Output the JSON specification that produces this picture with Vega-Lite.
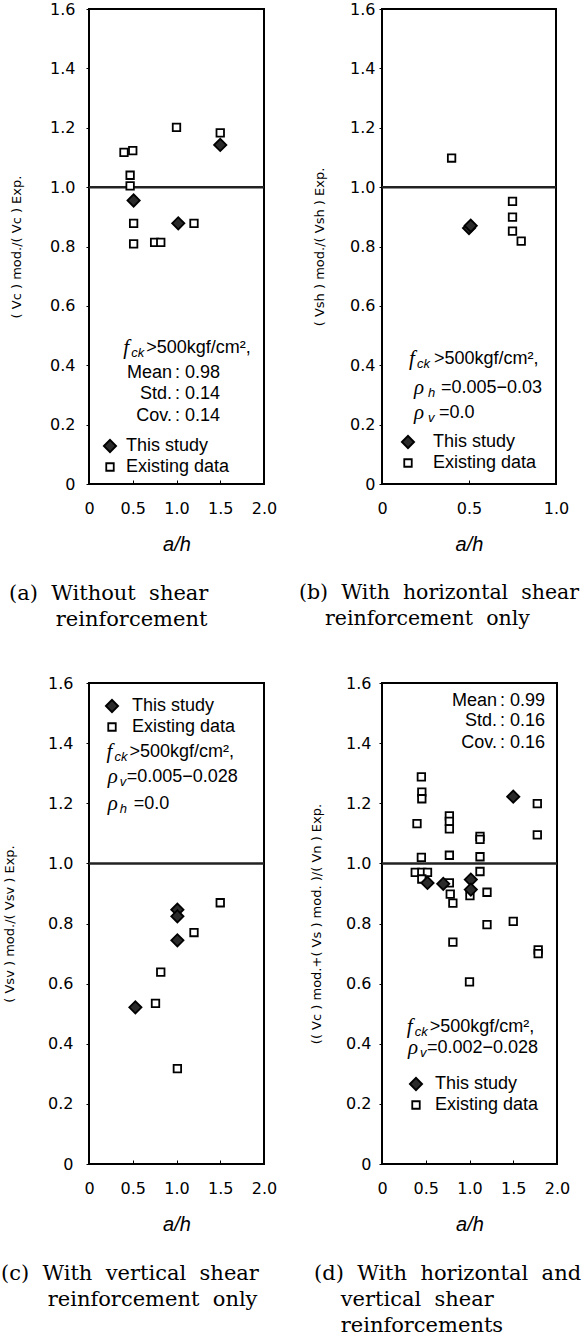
{
  "$schema": "https://vega.github.io/schema/vega-lite/v6.json",
  "background": "white",
  "padding": {"left": 0, "top": 0, "right": 0, "bottom": 2},
  "datasets": {
    "one": [{}],
    "a": [
      {"ah": 0.40, "ratio": 1.117, "source": "Existing data"},
      {"ah": 0.50, "ratio": 1.123, "source": "Existing data"},
      {"ah": 0.47, "ratio": 1.040, "source": "Existing data"},
      {"ah": 0.47, "ratio": 1.004, "source": "Existing data"},
      {"ah": 0.51, "ratio": 0.878, "source": "Existing data"},
      {"ah": 0.51, "ratio": 0.809, "source": "Existing data"},
      {"ah": 0.75, "ratio": 0.814, "source": "Existing data"},
      {"ah": 0.82, "ratio": 0.814, "source": "Existing data"},
      {"ah": 1.00, "ratio": 1.201, "source": "Existing data"},
      {"ah": 1.20, "ratio": 0.878, "source": "Existing data"},
      {"ah": 1.50, "ratio": 1.183, "source": "Existing data"},
      {"ah": 0.51, "ratio": 0.955, "source": "This study"},
      {"ah": 1.02, "ratio": 0.878, "source": "This study"},
      {"ah": 1.50, "ratio": 1.142, "source": "This study"}
    ],
    "b": [
      {"ah": 0.40, "ratio": 1.098, "source": "Existing data"},
      {"ah": 0.75, "ratio": 0.952, "source": "Existing data"},
      {"ah": 0.75, "ratio": 0.899, "source": "Existing data"},
      {"ah": 0.75, "ratio": 0.852, "source": "Existing data"},
      {"ah": 0.80, "ratio": 0.818, "source": "Existing data"},
      {"ah": 0.50, "ratio": 0.862, "source": "This study"},
      {"ah": 0.51, "ratio": 0.870, "source": "This study"}
    ],
    "c": [
      {"ah": 1.50, "ratio": 0.869, "source": "Existing data"},
      {"ah": 1.20, "ratio": 0.770, "source": "Existing data"},
      {"ah": 0.82, "ratio": 0.638, "source": "Existing data"},
      {"ah": 0.76, "ratio": 0.534, "source": "Existing data"},
      {"ah": 1.01, "ratio": 0.317, "source": "Existing data"},
      {"ah": 1.01, "ratio": 0.846, "source": "This study"},
      {"ah": 1.01, "ratio": 0.824, "source": "This study"},
      {"ah": 1.01, "ratio": 0.744, "source": "This study"},
      {"ah": 0.53, "ratio": 0.521, "source": "This study"}
    ],
    "d": [
      {"ah": 0.45, "ratio": 1.288, "source": "Existing data"},
      {"ah": 0.455, "ratio": 1.237, "source": "Existing data"},
      {"ah": 0.455, "ratio": 1.215, "source": "Existing data"},
      {"ah": 0.40, "ratio": 1.132, "source": "Existing data"},
      {"ah": 0.77, "ratio": 1.158, "source": "Existing data"},
      {"ah": 0.77, "ratio": 1.140, "source": "Existing data"},
      {"ah": 0.77, "ratio": 1.115, "source": "Existing data"},
      {"ah": 0.77, "ratio": 1.027, "source": "Existing data"},
      {"ah": 0.45, "ratio": 1.020, "source": "Existing data"},
      {"ah": 1.12, "ratio": 1.090, "source": "Existing data"},
      {"ah": 1.12, "ratio": 1.080, "source": "Existing data"},
      {"ah": 1.12, "ratio": 1.022, "source": "Existing data"},
      {"ah": 1.775, "ratio": 1.199, "source": "Existing data"},
      {"ah": 1.775, "ratio": 1.095, "source": "Existing data"},
      {"ah": 0.38, "ratio": 0.970, "source": "Existing data"},
      {"ah": 0.455, "ratio": 0.970, "source": "Existing data"},
      {"ah": 0.52, "ratio": 0.970, "source": "Existing data"},
      {"ah": 0.455, "ratio": 0.948, "source": "Existing data"},
      {"ah": 0.77, "ratio": 0.935, "source": "Existing data"},
      {"ah": 0.78, "ratio": 0.898, "source": "Existing data"},
      {"ah": 0.81, "ratio": 0.868, "source": "Existing data"},
      {"ah": 1.12, "ratio": 0.973, "source": "Existing data"},
      {"ah": 1.005, "ratio": 0.893, "source": "Existing data"},
      {"ah": 1.20, "ratio": 0.904, "source": "Existing data"},
      {"ah": 1.20, "ratio": 0.796, "source": "Existing data"},
      {"ah": 1.50, "ratio": 0.807, "source": "Existing data"},
      {"ah": 0.81, "ratio": 0.738, "source": "Existing data"},
      {"ah": 1.785, "ratio": 0.712, "source": "Existing data"},
      {"ah": 1.785, "ratio": 0.700, "source": "Existing data"},
      {"ah": 1.00, "ratio": 0.606, "source": "Existing data"},
      {"ah": 1.50, "ratio": 1.222, "source": "This study"},
      {"ah": 0.52, "ratio": 0.935, "source": "This study"},
      {"ah": 0.70, "ratio": 0.932, "source": "This study"},
      {"ah": 1.015, "ratio": 0.946, "source": "This study"},
      {"ah": 1.015, "ratio": 0.913, "source": "This study"}
    ]
  },
  "config": {
    "view": {"stroke": "black", "strokeWidth": 2},
    "axis": {
      "grid": false, "domain": false, "tickColor": "black", "tickWidth": 1,
      "labelFont": "DejaVu Sans", "labelFontSize": 16, "labelColor": "black",
      "labelFlush": false, "labelOverlap": false,
      "titleFont": "DejaVu Sans", "titleFontWeight": "normal", "titleColor": "black"
    },
    "axisX": {"tickSize": -4, "labelPadding": 20, "titleFont": "Liberation Sans", "titleFontStyle": "italic", "titleFontSize": 20, "titlePadding": 18},
    "axisY": {"tickSize": 3, "titleFontSize": 13},
    "legend": {
      "labelFont": "Liberation Sans", "labelFontSize": 18, "labelColor": "black",
      "symbolStrokeColor": "black", "symbolStrokeWidth": 1.8, "rowPadding": 2, "labelOffset": 7, "padding": 0
    },
    "title": {"orient": "bottom", "anchor": "start", "frame": "group", "font": "DejaVu Serif", "fontSize": 21, "fontWeight": "normal", "color": "black", "lineHeight": 26, "offset": 29},
    "text": {"font": "Liberation Sans", "fontSize": 18, "color": "black", "align": "left", "baseline": "middle"}
  },
  "resolve": {
    "scale": {"shape": "independent", "fill": "independent", "size": "independent", "stroke": "independent"},
    "legend": {"shape": "independent", "fill": "independent", "size": "independent", "stroke": "independent"}
  },
  "columns": 2,
  "spacing": {"row": 199, "column": 118},
  "bounds": "flush",
  "concat": [
    {
      "width": 175, "height": 475,
      "title": {"text": ["(a)\u00a0\u00a0Without\u00a0\u00a0shear", "\u200b\u00a0\u00a0\u00a0\u00a0\u00a0\u00a0\u00a0reinforcement"], "dx": -80},
      "layer": [
        {"data": {"name": "one"}, "mark": {"type": "rule", "stroke": "#222", "strokeWidth": 2.5}, "encoding": {"y": {"datum": 1}}},
        {
          "data": {"name": "a"},
          "mark": {"type": "point", "filled": true, "strokeWidth": 1.8, "opacity": 1},
          "encoding": {
            "x": {"field": "ah", "type": "quantitative", "scale": {"domain": [0, 2], "nice": false, "zero": false},
                  "axis": {"values": [0, 0.5, 1, 1.5, 2], "labelExpr": "datum.value == 0 ? '0' : format(datum.value, '.1f')", "title": "a/h"}},
            "y": {"field": "ratio", "type": "quantitative", "scale": {"domain": [0, 1.6], "nice": false},
                  "axis": {"values": [0, 0.2, 0.4, 0.6, 0.8, 1, 1.2, 1.4, 1.6], "labelExpr": "datum.value == 0 ? '0' : format(datum.value, '.1f')", "title": "( Vc ) mod./( Vc ) Exp.", "labelPadding": 11, "titlePadding": 26}},
            "shape": {"field": "source", "type": "nominal", "scale": {"domain": ["This study", "Existing data"], "range": ["diamond", "square"]},
                      "legend": {"title": null, "orient": "none", "legendX": 12, "legendY": 428}},
            "fill": {"field": "source", "type": "nominal", "scale": {"domain": ["This study", "Existing data"], "range": ["#2a2a2a", "white"]},
                     "legend": {"title": null, "orient": "none", "legendX": 12, "legendY": 428}},
            "stroke": {"field": "source", "type": "nominal", "scale": {"domain": ["This study", "Existing data"], "range": ["black", "black"]},
                     "legend": {"title": null, "orient": "none", "legendX": 12, "legendY": 428}},
            "size": {"field": "source", "type": "nominal", "scale": {"domain": ["This study", "Existing data"], "range": [150, 56]},
                     "legend": {"title": null, "orient": "none", "legendX": 12, "legendY": 428}}
          }
        },
        {"data": {"name": "one"}, "mark": {"type": "text", "text": "f", "font": "Liberation Serif", "fontStyle": "italic", "fontSize": 21}, "encoding": {"x": {"datum": 0.39}, "y": {"datum": 0.458}}},
        {"data": {"name": "one"}, "mark": {"type": "text", "text": "ck", "fontStyle": "italic", "fontSize": 13, "dx": 8, "dy": 5}, "encoding": {"x": {"datum": 0.39}, "y": {"datum": 0.458}}},
        {"data": {"name": "one"}, "mark": {"type": "text", "text": ">500kgf/cm²,", "dx": 23}, "encoding": {"x": {"datum": 0.39}, "y": {"datum": 0.458}}},
        {"data": {"name": "one"}, "mark": {"type": "text", "text": "Mean", "align": "right", "dx": -3}, "encoding": {"x": {"datum": 0.983}, "y": {"datum": 0.375}}},
        {"data": {"name": "one"}, "mark": {"type": "text", "text": ": 0.98"}, "encoding": {"x": {"datum": 0.983}, "y": {"datum": 0.375}}},
        {"data": {"name": "one"}, "mark": {"type": "text", "text": "Std.", "align": "right", "dx": -3}, "encoding": {"x": {"datum": 0.983}, "y": {"datum": 0.302}}},
        {"data": {"name": "one"}, "mark": {"type": "text", "text": ": 0.14"}, "encoding": {"x": {"datum": 0.983}, "y": {"datum": 0.302}}},
        {"data": {"name": "one"}, "mark": {"type": "text", "text": "Cov.", "align": "right", "dx": -3}, "encoding": {"x": {"datum": 0.983}, "y": {"datum": 0.229}}},
        {"data": {"name": "one"}, "mark": {"type": "text", "text": ": 0.14"}, "encoding": {"x": {"datum": 0.983}, "y": {"datum": 0.229}}}
      ]
    },
    {
      "width": 174, "height": 475,
      "title": {"text": ["(b)\u00a0\u00a0With\u00a0\u00a0horizontal\u00a0\u00a0shear", "\u200b\u00a0\u00a0\u00a0\u00a0reinforcement\u00a0\u00a0only"], "dx": -83, "fontSize": 20.5},
      "layer": [
        {"data": {"name": "one"}, "mark": {"type": "rule", "stroke": "#222", "strokeWidth": 2.5}, "encoding": {"y": {"datum": 1}}},
        {
          "data": {"name": "b"},
          "mark": {"type": "point", "filled": true, "strokeWidth": 1.8, "opacity": 1},
          "encoding": {
            "x": {"field": "ah", "type": "quantitative", "scale": {"domain": [0, 1], "nice": false, "zero": false},
                  "axis": {"values": [0, 0.5, 1], "labelExpr": "datum.value == 0 ? '0' : format(datum.value, '.1f')", "title": "a/h"}},
            "y": {"field": "ratio", "type": "quantitative", "scale": {"domain": [0, 1.6], "nice": false},
                  "axis": {"values": [0, 0.2, 0.4, 0.6, 0.8, 1, 1.2, 1.4, 1.6], "labelExpr": "datum.value == 0 ? '0' : format(datum.value, '.1f')", "title": "( Vsh ) mod./( Vsh ) Exp.", "labelPadding": 4, "titlePadding": 23}},
            "shape": {"field": "source", "type": "nominal", "scale": {"domain": ["This study", "Existing data"], "range": ["diamond", "square"]},
                      "legend": {"title": null, "orient": "none", "legendX": 17, "legendY": 424, "labelOffset": 16}},
            "fill": {"field": "source", "type": "nominal", "scale": {"domain": ["This study", "Existing data"], "range": ["#2a2a2a", "white"]},
                     "legend": {"title": null, "orient": "none", "legendX": 17, "legendY": 424, "labelOffset": 16}},
            "stroke": {"field": "source", "type": "nominal", "scale": {"domain": ["This study", "Existing data"], "range": ["black", "black"]},
                     "legend": {"title": null, "orient": "none", "legendX": 17, "legendY": 424, "labelOffset": 16}},
            "size": {"field": "source", "type": "nominal", "scale": {"domain": ["This study", "Existing data"], "range": [150, 56]},
                     "legend": {"title": null, "orient": "none", "legendX": 17, "legendY": 424, "labelOffset": 16}}
          }
        },
        {"data": {"name": "one"}, "mark": {"type": "text", "text": "f", "font": "Liberation Serif", "fontStyle": "italic", "fontSize": 21}, "encoding": {"x": {"datum": 0.155}, "y": {"datum": 0.421}}},
        {"data": {"name": "one"}, "mark": {"type": "text", "text": "ck", "fontStyle": "italic", "fontSize": 13, "dx": 8, "dy": 5}, "encoding": {"x": {"datum": 0.155}, "y": {"datum": 0.421}}},
        {"data": {"name": "one"}, "mark": {"type": "text", "text": ">500kgf/cm²,", "dx": 25}, "encoding": {"x": {"datum": 0.155}, "y": {"datum": 0.421}}},
        {"data": {"name": "one"}, "mark": {"type": "text", "text": "ρ", "font": "Liberation Serif", "fontStyle": "italic", "fontSize": 21}, "encoding": {"x": {"datum": 0.184}, "y": {"datum": 0.324}}},
        {"data": {"name": "one"}, "mark": {"type": "text", "text": "h", "fontStyle": "italic", "fontSize": 13, "dx": 14, "dy": 5}, "encoding": {"x": {"datum": 0.184}, "y": {"datum": 0.324}}},
        {"data": {"name": "one"}, "mark": {"type": "text", "text": "=0.005−0.03", "dx": 27}, "encoding": {"x": {"datum": 0.184}, "y": {"datum": 0.324}}},
        {"data": {"name": "one"}, "mark": {"type": "text", "text": "ρ", "font": "Liberation Serif", "fontStyle": "italic", "fontSize": 21}, "encoding": {"x": {"datum": 0.184}, "y": {"datum": 0.24}}},
        {"data": {"name": "one"}, "mark": {"type": "text", "text": "v", "fontStyle": "italic", "fontSize": 13, "dx": 14, "dy": 5}, "encoding": {"x": {"datum": 0.184}, "y": {"datum": 0.24}}},
        {"data": {"name": "one"}, "mark": {"type": "text", "text": "=0.0", "dx": 25}, "encoding": {"x": {"datum": 0.184}, "y": {"datum": 0.24}}}
      ]
    },
    {
      "width": 175, "height": 481,
      "title": {"text": ["(c)\u00a0\u00a0With\u00a0\u00a0vertical\u00a0\u00a0shear", "\u200b\u00a0\u00a0\u00a0\u00a0\u00a0\u00a0\u00a0reinforcement\u00a0\u00a0only"], "dx": -88},
      "layer": [
        {"data": {"name": "one"}, "mark": {"type": "rule", "stroke": "#222", "strokeWidth": 2.5}, "encoding": {"y": {"datum": 1}}},
        {
          "data": {"name": "c"},
          "mark": {"type": "point", "filled": true, "strokeWidth": 1.8, "opacity": 1},
          "encoding": {
            "x": {"field": "ah", "type": "quantitative", "scale": {"domain": [0, 2], "nice": false, "zero": false},
                  "axis": {"values": [0, 0.5, 1, 1.5, 2], "labelExpr": "datum.value == 0 ? '0' : format(datum.value, '.1f')", "title": "a/h"}},
            "y": {"field": "ratio", "type": "quantitative", "scale": {"domain": [0, 1.6], "nice": false},
                  "axis": {"values": [0, 0.2, 0.4, 0.6, 0.8, 1, 1.2, 1.4, 1.6], "labelExpr": "datum.value == 0 ? '0' : format(datum.value, '.1f')", "title": "( Vsv ) mod./( Vsv ) Exp.", "labelPadding": 13, "titlePadding": 31}},
            "shape": {"field": "source", "type": "nominal", "scale": {"domain": ["This study", "Existing data"], "range": ["diamond", "square"]},
                      "legend": {"title": null, "orient": "none", "legendX": 14, "legendY": 14, "labelOffset": 11}},
            "fill": {"field": "source", "type": "nominal", "scale": {"domain": ["This study", "Existing data"], "range": ["#2a2a2a", "white"]},
                     "legend": {"title": null, "orient": "none", "legendX": 14, "legendY": 14, "labelOffset": 11}},
            "stroke": {"field": "source", "type": "nominal", "scale": {"domain": ["This study", "Existing data"], "range": ["black", "black"]},
                     "legend": {"title": null, "orient": "none", "legendX": 14, "legendY": 14, "labelOffset": 11}},
            "size": {"field": "source", "type": "nominal", "scale": {"domain": ["This study", "Existing data"], "range": [150, 56]},
                     "legend": {"title": null, "orient": "none", "legendX": 14, "legendY": 14, "labelOffset": 11}}
          }
        },
        {"data": {"name": "one"}, "mark": {"type": "text", "text": "f", "font": "Liberation Serif", "fontStyle": "italic", "fontSize": 21}, "encoding": {"x": {"datum": 0.2}, "y": {"datum": 1.37}}},
        {"data": {"name": "one"}, "mark": {"type": "text", "text": "ck", "fontStyle": "italic", "fontSize": 13, "dx": 8, "dy": 5}, "encoding": {"x": {"datum": 0.2}, "y": {"datum": 1.37}}},
        {"data": {"name": "one"}, "mark": {"type": "text", "text": ">500kgf/cm²,", "dx": 23}, "encoding": {"x": {"datum": 0.2}, "y": {"datum": 1.37}}},
        {"data": {"name": "one"}, "mark": {"type": "text", "text": "ρ", "font": "Liberation Serif", "fontStyle": "italic", "fontSize": 21}, "encoding": {"x": {"datum": 0.214}, "y": {"datum": 1.287}}},
        {"data": {"name": "one"}, "mark": {"type": "text", "text": "v", "fontStyle": "italic", "fontSize": 13, "dx": 12, "dy": 5}, "encoding": {"x": {"datum": 0.214}, "y": {"datum": 1.287}}},
        {"data": {"name": "one"}, "mark": {"type": "text", "text": "=0.005−0.028", "dx": 19}, "encoding": {"x": {"datum": 0.214}, "y": {"datum": 1.287}}},
        {"data": {"name": "one"}, "mark": {"type": "text", "text": "ρ", "font": "Liberation Serif", "fontStyle": "italic", "fontSize": 21}, "encoding": {"x": {"datum": 0.214}, "y": {"datum": 1.197}}},
        {"data": {"name": "one"}, "mark": {"type": "text", "text": "h", "fontStyle": "italic", "fontSize": 13, "dx": 12, "dy": 5}, "encoding": {"x": {"datum": 0.214}, "y": {"datum": 1.197}}},
        {"data": {"name": "one"}, "mark": {"type": "text", "text": "=0.0", "dx": 26}, "encoding": {"x": {"datum": 0.214}, "y": {"datum": 1.197}}}
      ]
    },
    {
      "width": 175, "height": 481,
      "title": {"text": ["(d)\u00a0\u00a0With\u00a0\u00a0horizontal\u00a0\u00a0and", "\u200b\u00a0\u00a0\u00a0\u00a0vertical\u00a0\u00a0shear", "\u200b\u00a0\u00a0\u00a0\u00a0reinforcements"], "dx": -68},
      "layer": [
        {"data": {"name": "one"}, "mark": {"type": "rule", "stroke": "#222", "strokeWidth": 2.5}, "encoding": {"y": {"datum": 1}}},
        {
          "data": {"name": "d"},
          "mark": {"type": "point", "filled": true, "strokeWidth": 1.8, "opacity": 1},
          "encoding": {
            "x": {"field": "ah", "type": "quantitative", "scale": {"domain": [0, 2], "nice": false, "zero": false},
                  "axis": {"values": [0, 0.5, 1, 1.5, 2], "labelExpr": "datum.value == 0 ? '0' : format(datum.value, '.1f')", "title": "a/h"}},
            "y": {"field": "ratio", "type": "quantitative", "scale": {"domain": [0, 1.6], "nice": false},
                  "axis": {"values": [0, 0.2, 0.4, 0.6, 0.8, 1, 1.2, 1.4, 1.6], "labelExpr": "datum.value == 0 ? '0' : format(datum.value, '.1f')", "title": "(( Vc ) mod.+( Vs ) mod. )/( Vn ) Exp.", "labelPadding": 8, "titlePadding": 22}},
            "shape": {"field": "source", "type": "nominal", "scale": {"domain": ["This study", "Existing data"], "range": ["diamond", "square"]},
                      "legend": {"title": null, "orient": "none", "legendX": 25, "legendY": 392, "labelOffset": 10}},
            "fill": {"field": "source", "type": "nominal", "scale": {"domain": ["This study", "Existing data"], "range": ["#2a2a2a", "white"]},
                     "legend": {"title": null, "orient": "none", "legendX": 25, "legendY": 392, "labelOffset": 10}},
            "stroke": {"field": "source", "type": "nominal", "scale": {"domain": ["This study", "Existing data"], "range": ["black", "black"]},
                     "legend": {"title": null, "orient": "none", "legendX": 25, "legendY": 392, "labelOffset": 10}},
            "size": {"field": "source", "type": "nominal", "scale": {"domain": ["This study", "Existing data"], "range": [150, 56]},
                     "legend": {"title": null, "orient": "none", "legendX": 25, "legendY": 392, "labelOffset": 10}}
          }
        },
        {"data": {"name": "one"}, "mark": {"type": "text", "text": "Mean", "align": "right", "dx": -3}, "encoding": {"x": {"datum": 1.349}, "y": {"datum": 1.539}}},
        {"data": {"name": "one"}, "mark": {"type": "text", "text": ": 0.99"}, "encoding": {"x": {"datum": 1.349}, "y": {"datum": 1.539}}},
        {"data": {"name": "one"}, "mark": {"type": "text", "text": "Std.", "align": "right", "dx": -3}, "encoding": {"x": {"datum": 1.349}, "y": {"datum": 1.472}}},
        {"data": {"name": "one"}, "mark": {"type": "text", "text": ": 0.16"}, "encoding": {"x": {"datum": 1.349}, "y": {"datum": 1.472}}},
        {"data": {"name": "one"}, "mark": {"type": "text", "text": "Cov.", "align": "right", "dx": -3}, "encoding": {"x": {"datum": 1.349}, "y": {"datum": 1.40}}},
        {"data": {"name": "one"}, "mark": {"type": "text", "text": ": 0.16"}, "encoding": {"x": {"datum": 1.349}, "y": {"datum": 1.40}}},
        {"data": {"name": "one"}, "mark": {"type": "text", "text": "f", "font": "Liberation Serif", "fontStyle": "italic", "fontSize": 21}, "encoding": {"x": {"datum": 0.282}, "y": {"datum": 0.457}}},
        {"data": {"name": "one"}, "mark": {"type": "text", "text": "ck", "fontStyle": "italic", "fontSize": 13, "dx": 8, "dy": 5}, "encoding": {"x": {"datum": 0.282}, "y": {"datum": 0.457}}},
        {"data": {"name": "one"}, "mark": {"type": "text", "text": ">500kgf/cm²,", "dx": 23}, "encoding": {"x": {"datum": 0.282}, "y": {"datum": 0.457}}},
        {"data": {"name": "one"}, "mark": {"type": "text", "text": "ρ", "font": "Liberation Serif", "fontStyle": "italic", "fontSize": 21}, "encoding": {"x": {"datum": 0.297}, "y": {"datum": 0.385}}},
        {"data": {"name": "one"}, "mark": {"type": "text", "text": "v", "fontStyle": "italic", "fontSize": 13, "dx": 12, "dy": 5}, "encoding": {"x": {"datum": 0.297}, "y": {"datum": 0.385}}},
        {"data": {"name": "one"}, "mark": {"type": "text", "text": "=0.002−0.028", "dx": 19}, "encoding": {"x": {"datum": 0.297}, "y": {"datum": 0.385}}}
      ]
    }
  ]
}
